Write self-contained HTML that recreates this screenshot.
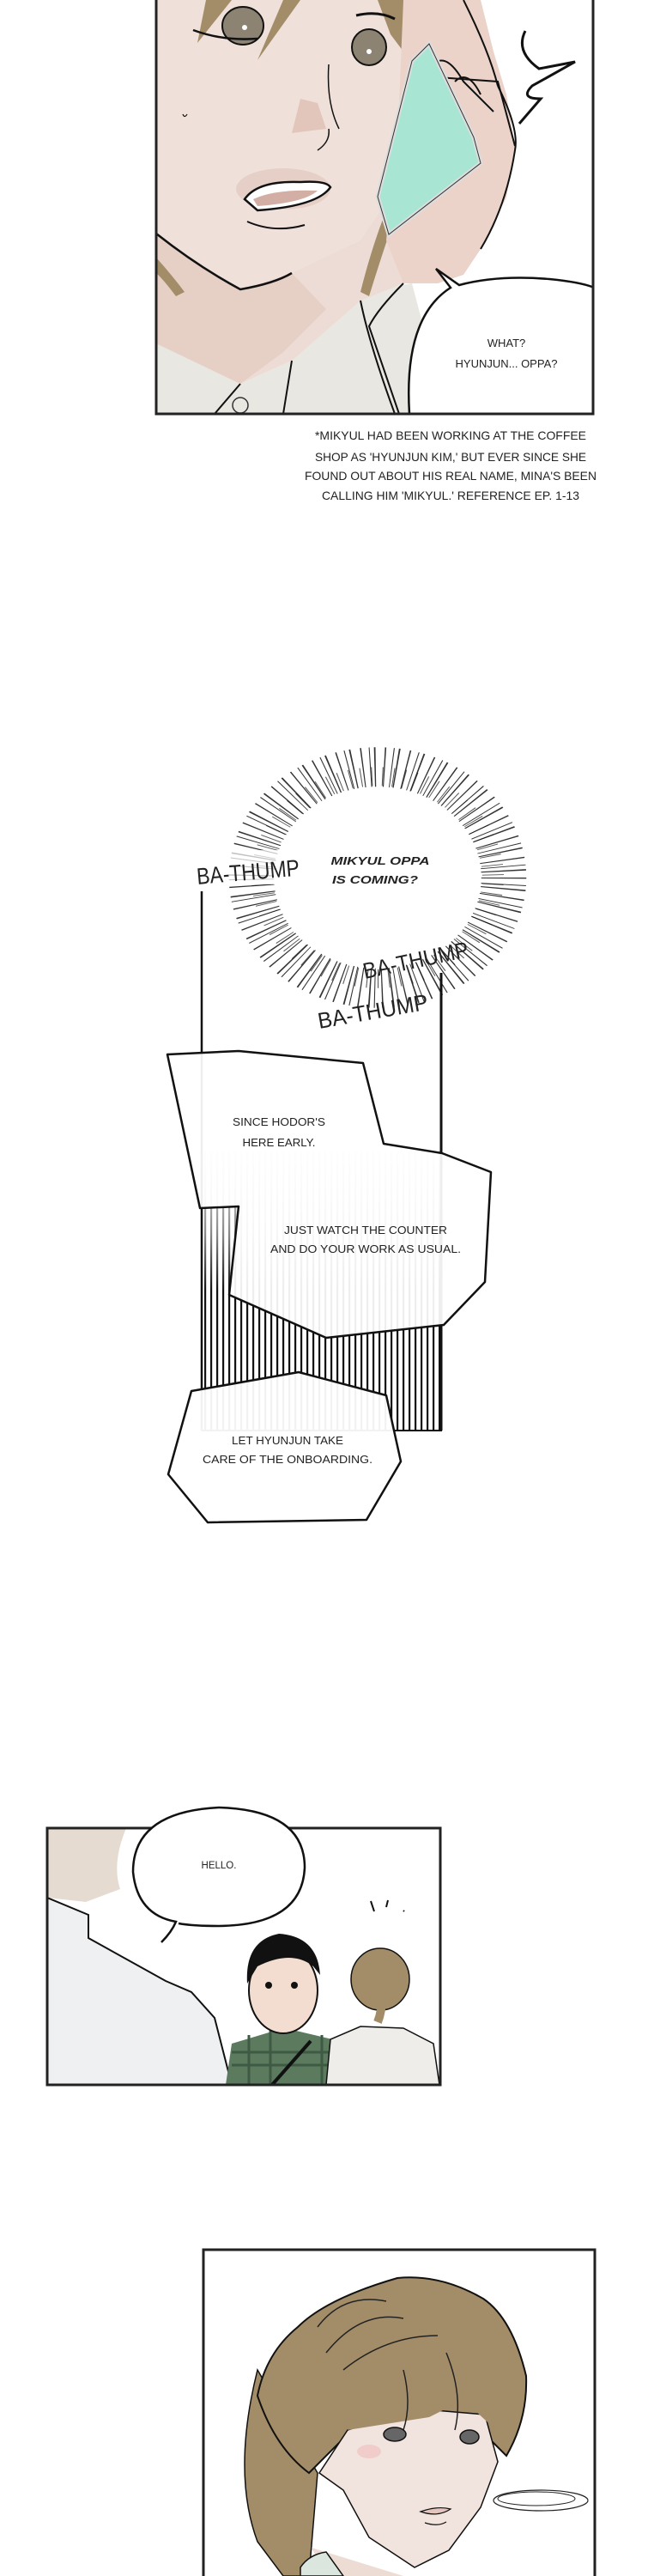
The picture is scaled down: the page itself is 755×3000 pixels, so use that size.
<!DOCTYPE html>
<html><head><meta charset="utf-8"><style>
html,body{margin:0;padding:0;background:#fff}
svg{display:block}
text{font-family:"Liberation Sans",sans-serif;fill:#222}
</style></head><body>
<svg width="755" height="3000" viewBox="0 0 755 3000" xmlns="http://www.w3.org/2000/svg">
<defs>
<clipPath id="c1"><rect x="182" y="0" width="509" height="482"/></clipPath>
<clipPath id="c2"><rect x="55" y="2129" width="458" height="299"/></clipPath>
<clipPath id="c3"><rect x="237" y="2620" width="456" height="380"/></clipPath>
<pattern id="stripes" width="7" height="10" patternUnits="userSpaceOnUse"><rect x="0" y="0" width="2.2" height="10" fill="#111"/></pattern>
<linearGradient id="fade" x1="0" y1="0" x2="0" y2="1"><stop offset="0" stop-color="#fff" stop-opacity="0.9"/><stop offset="0.3" stop-color="#fff" stop-opacity="0.5"/><stop offset="0.5" stop-color="#fff" stop-opacity="0"/></linearGradient>
</defs>

<!-- PANEL 1 -->
<g clip-path="url(#c1)">
<rect x="182" y="0" width="509" height="482" fill="#fff"/>
<path d="M182 380 L280 447 L340 420 L420 340 L480 330 L520 482 L182 482 Z" fill="#e9e7e1"/>
<path d="M182 0 L470 0 L470 330 L420 350 L340 420 L280 447 L182 400 Z" fill="#eddcd5"/>
<path d="M182 272 Q230 310 280 337 Q320 330 340 318 L380 360 L330 410 L280 447 L182 400 Z" fill="#e6cfc5"/>
<path d="M182 0 L470 0 L480 60 L460 220 L420 280 L340 318 L280 337 Q230 310 182 272 Z" fill="#efe1da"/>
<path d="M182 272 Q230 310 280 337 Q320 330 340 318" fill="none" stroke="#111" stroke-width="2.5"/>
<path d="M240 0 L270 0 L230 50 Z" fill="#a38c68"/>
<path d="M330 0 L350 0 L300 70 Z" fill="#a38c68"/>
<path d="M440 0 L500 0 L470 60 L455 40 Z" fill="#a38c68"/>
<path d="M420 340 Q440 260 470 200 L475 210 Q450 280 430 345 Z" fill="#a38c68"/>
<path d="M182 300 Q200 320 215 340 L205 345 Q190 325 182 318 Z" fill="#a38c68"/>
<ellipse cx="283" cy="30" rx="24" ry="22" fill="#8c8373" stroke="#111" stroke-width="2"/>
<circle cx="285" cy="32" r="3" fill="#fff"/>
<path d="M225 35 Q260 48 300 45" fill="none" stroke="#111" stroke-width="2.5"/>
<ellipse cx="430" cy="55" rx="20" ry="21" fill="#8c8373" stroke="#111" stroke-width="2"/>
<circle cx="430" cy="60" r="3" fill="#fff"/>
<path d="M415 18 Q440 12 460 22" fill="none" stroke="#111" stroke-width="3"/>
<path d="M350 115 L370 120 L380 150 L340 155 Z" fill="#e2c6bb"/>
<path d="M383 150 Q385 165 370 175" fill="none" stroke="#111" stroke-width="1.5"/>
<path d="M383 75 Q380 120 395 150" fill="none" stroke="#111" stroke-width="1.5"/>
<path d="M213 133 q2 5 5 0" fill="none" stroke="#111" stroke-width="1.2"/>
<ellipse cx="330" cy="220" rx="55" ry="24" fill="#e6cfc7"/>
<path d="M285 232 Q300 210 350 212 Q380 210 385 218 Q370 240 300 245 Z" fill="#fff" stroke="#111" stroke-width="2.5"/>
<path d="M295 232 Q320 220 370 222 Q355 236 300 240 Z" fill="#d2aea4"/>
<path d="M288 258 Q320 272 355 262" fill="none" stroke="#111" stroke-width="2"/>
<path d="M470 0 L560 0 L575 60 L590 110 L600 170 L590 230 L560 290 L540 320 L510 330 L470 330 L450 280 L465 120 Z" fill="#ebd3ca"/>
<path d="M510 90 L580 95 L600 170" fill="none" stroke="#111" stroke-width="2"/>
<path d="M505 75 Q520 60 540 95 L575 130" fill="none" stroke="#111" stroke-width="2"/>
<path d="M530 95 Q545 80 560 110" fill="none" stroke="#111" stroke-width="2"/>
<path d="M580 100 Q605 150 600 175 Q590 240 560 290" fill="none" stroke="#111" stroke-width="2"/>
<path d="M540 0 Q570 60 580 100" fill="none" stroke="#111" stroke-width="2"/>
<path d="M480 71 L500 51 L552 160 L560 190 L453 273 L440 229 Z" fill="#a8e6d3" stroke="#ddd" stroke-width="5"/>
<path d="M480 71 L500 51 L552 160 L560 190 L453 273 L440 229 Z" fill="none" stroke="#333" stroke-width="1"/>
<path d="M280 447 L250 482 M340 420 L330 482 M420 350 Q430 400 460 482" fill="none" stroke="#111" stroke-width="2"/>
<path d="M470 330 Q440 360 430 380 L465 482" fill="none" stroke="#111" stroke-width="2"/>
<circle cx="280" cy="472" r="9" fill="none" stroke="#333" stroke-width="1.5"/>
<path d="M477 482 Q470 370 525 335 L508 313 L535 332 Q580 320 640 325 Q691 330 700 340 L700 482 Z" fill="#fff" stroke="#111" stroke-width="2.5"/>
</g>
<rect x="182" y="-5" width="509" height="487" fill="none" stroke="#222" stroke-width="3"/>
<path d="M612 36 Q600 60 628 80 L670 72 L620 100 Q605 115 630 115 L605 144" fill="none" stroke="#111" stroke-width="3"/>
<text x="590" y="404" font-size="13" text-anchor="middle">WHAT?</text>
<text x="590" y="428" font-size="13" text-anchor="middle">HYUNJUN... OPPA?</text>

<g font-size="14">
<text x="367" y="512" textLength="316" lengthAdjust="spacingAndGlyphs">*MIKYUL HAD BEEN WORKING AT THE COFFEE</text>
<text x="367" y="537" textLength="316" lengthAdjust="spacingAndGlyphs">SHOP AS 'HYUNJUN KIM,' BUT EVER SINCE SHE</text>
<text x="355" y="559" textLength="340" lengthAdjust="spacingAndGlyphs">FOUND OUT ABOUT HIS REAL NAME, MINA'S BEEN</text>
<text x="375" y="582" textLength="300" lengthAdjust="spacingAndGlyphs">CALLING HIM 'MIKYUL.' REFERENCE EP. 1-13</text>
</g>

<!-- BURST -->
<g transform="translate(440,1022) scale(1.05,0.92)">
<circle r="140" fill="none" stroke="#111" stroke-width="50" stroke-dasharray="1.3 7 1 4 1.5 9" opacity="0.85"/>
<circle r="128" fill="none" stroke="#111" stroke-width="24" stroke-dasharray="1 11" stroke-dashoffset="4" opacity="0.7"/>
</g>
<g font-size="13" font-weight="bold" font-style="italic">
<text x="443" y="1007" text-anchor="middle" textLength="115" lengthAdjust="spacingAndGlyphs">MIKYUL OPPA</text>
<text x="437" y="1029" text-anchor="middle" textLength="100" lengthAdjust="spacingAndGlyphs">IS COMING?</text>
</g>
<rect x="225" y="990" width="125" height="40" fill="#fff" opacity="0.7"/>
<text x="230" y="1030" font-size="27" transform="rotate(-5 230 1030)" textLength="120" lengthAdjust="spacingAndGlyphs">BA-THUMP</text>
<text x="425" y="1140" font-size="26" transform="rotate(-12 425 1140)" textLength="125" lengthAdjust="spacingAndGlyphs">BA-THUMP</text>
<text x="372" y="1198" font-size="26" transform="rotate(-10 372 1198)" textLength="130" lengthAdjust="spacingAndGlyphs">BA-THUMP</text>

<rect x="235" y="1340" width="280" height="326" fill="url(#stripes)"/>
<rect x="235" y="1340" width="280" height="326" fill="url(#fade)"/>
<line x1="235" y1="1038" x2="235" y2="1666" stroke="#111" stroke-width="2.5"/>
<line x1="514" y1="1133" x2="514" y2="1666" stroke="#111" stroke-width="3"/>
<line x1="235" y1="1666" x2="515" y2="1666" stroke="#111" stroke-width="2"/>

<path d="M195 1228 L278 1224 L423 1238 L447 1332 L515 1343 L572 1365 L565 1493 L517 1543 L380 1558 L267 1508 L278 1405 L233 1407 Z" fill="#fff" fill-opacity="0.93" stroke="#111" stroke-width="2.5" stroke-linejoin="round"/>
<g font-size="12.5">
<text x="325" y="1311" text-anchor="middle" textLength="108" lengthAdjust="spacingAndGlyphs">SINCE HODOR'S</text>
<text x="325" y="1335" text-anchor="middle" textLength="85" lengthAdjust="spacingAndGlyphs">HERE EARLY.</text>
<text x="426" y="1437" text-anchor="middle" textLength="190" lengthAdjust="spacingAndGlyphs">JUST WATCH THE COUNTER</text>
<text x="426" y="1459" text-anchor="middle" textLength="222" lengthAdjust="spacingAndGlyphs">AND DO YOUR WORK AS USUAL.</text>
</g>
<path d="M223 1620 L348 1598 L450 1625 L467 1702 L427 1770 L242 1773 L196 1717 Z" fill="#fff" fill-opacity="0.95" stroke="#111" stroke-width="2.5" stroke-linejoin="round"/>
<g font-size="12.5">
<text x="335" y="1682" text-anchor="middle" textLength="130" lengthAdjust="spacingAndGlyphs">LET HYUNJUN TAKE</text>
<text x="335" y="1704" text-anchor="middle" textLength="198" lengthAdjust="spacingAndGlyphs">CARE OF THE ONBOARDING.</text>
</g>

<!-- PANEL 2 -->
<g clip-path="url(#c2)">
<rect x="55" y="2129" width="458" height="299" fill="#fff"/>
<path d="M55 2129 L147 2129 Q130 2170 140 2200 L100 2215 L55 2210 Z" fill="#e6dbd0"/>
<path d="M55 2210 L103 2230 L103 2257 L193 2307 L223 2320 L250 2350 L270 2428 L55 2428 Z" fill="#eef0f1" stroke="#111" stroke-width="2"/>
<path d="M263 2428 L270 2380 L320 2365 L345 2365 L400 2378 L410 2428 Z" fill="#5b7a5e"/>
<path d="M270 2390 L405 2390 M270 2405 L408 2405 M290 2370 L290 2428 M315 2365 L315 2428 M375 2370 L375 2428 M395 2375 L395 2428" stroke="#3f5a44" stroke-width="3"/>
<path d="M362 2377 L317 2428" stroke="#111" stroke-width="4"/>
<ellipse cx="330" cy="2318" rx="40" ry="50" fill="#f3ddd0" stroke="#111" stroke-width="2"/>
<path d="M288 2310 Q285 2260 325 2252 Q370 2255 373 2300 L365 2290 Q340 2270 300 2290 Z" fill="#111"/>
<circle cx="313" cy="2312" r="4" fill="#111"/><circle cx="343" cy="2312" r="4" fill="#111"/>
<path d="M380 2428 L385 2375 L420 2360 L470 2362 L505 2380 L512 2428 Z" fill="#eeedea" stroke="#111" stroke-width="1.5"/>
<ellipse cx="443" cy="2305" rx="34" ry="36" fill="#a38c68" stroke="#111" stroke-width="1.5"/>
<path d="M440 2290 Q450 2330 440 2355" stroke="#a38c68" stroke-width="10" fill="none"/>
<path d="M432 2214 l4 12 M452 2213 l-2 8 M470 2225 l1 1" stroke="#111" stroke-width="2"/>
</g>
<rect x="55" y="2129" width="458" height="299" fill="none" stroke="#222" stroke-width="3"/>
<path d="M188 2262 Q200 2250 205 2238 Q160 2230 155 2180 Q155 2110 255 2105 Q355 2108 355 2175 Q352 2242 255 2243 Q225 2243 208 2240" fill="#fff" stroke="#111" stroke-width="2.5"/>
<text x="255" y="2176" font-size="11.5" text-anchor="middle">HELLO.</text>

<!-- PANEL 3 -->
<g clip-path="url(#c3)">
<rect x="237" y="2620" width="456" height="380" fill="#fff"/>
<path d="M300 2760 Q270 2880 300 2960 L330 3000 L360 3000 L370 2880 Z" fill="#a38c68" stroke="#111" stroke-width="1.5"/>
<path d="M363 2967 L380 3000 L470 3000 Z" fill="#ecdcd4"/>
<path d="M350 2990 Q360 2975 380 2972 L400 3000 L350 3000 Z" fill="#dbe6de" stroke="#111" stroke-width="1.5"/>
<path d="M300 2790 Q310 2740 347 2710 Q380 2677 463 2653 Q513 2648 563 2677 Q597 2700 613 2767 Q615 2817 590 2860 L560 2830 L410 2830 L360 2880 Q320 2850 300 2790 Z" fill="#a38c68" stroke="#111" stroke-width="2"/>
<path d="M405 2830 L483 2805 L565 2812 L580 2867 L560 2920 L523 2970 L483 2990 L430 2955 L400 2900 L372 2880 Z" fill="#f1e3dd" stroke="#111" stroke-width="1.5"/>
<path d="M405 2830 L470 2750 L500 2790 L560 2750 L578 2830 L540 2795 L500 2815 Z" fill="#a38c68"/>
<path d="M380 2740 Q420 2690 470 2700 M400 2760 Q450 2720 510 2720 M370 2710 Q400 2670 450 2680 M470 2760 Q480 2800 470 2830 M520 2740 Q540 2790 530 2830" stroke="#222" stroke-width="1.5" fill="none"/>
<ellipse cx="460" cy="2835" rx="13" ry="8" fill="#666" stroke="#111" stroke-width="1.5"/>
<ellipse cx="547" cy="2838" rx="11" ry="8" fill="#666" stroke="#111" stroke-width="1.5"/>
<ellipse cx="430" cy="2855" rx="14" ry="8" fill="#efc3c3" opacity="0.7"/>
<path d="M490 2925 Q510 2918 525 2922 Q510 2932 490 2925 Z" fill="#e3c5bd" stroke="#111" stroke-width="1.2"/>
<path d="M495 2938 Q510 2943 520 2937" stroke="#111" stroke-width="1.2" fill="none"/>
<ellipse cx="630" cy="2912" rx="55" ry="12" fill="none" stroke="#222" stroke-width="1.2"/>
<ellipse cx="625" cy="2910" rx="45" ry="8" fill="none" stroke="#222" stroke-width="1"/>
</g>
<rect x="237" y="2620" width="456" height="390" fill="none" stroke="#222" stroke-width="3"/>
</svg>
</body></html>
